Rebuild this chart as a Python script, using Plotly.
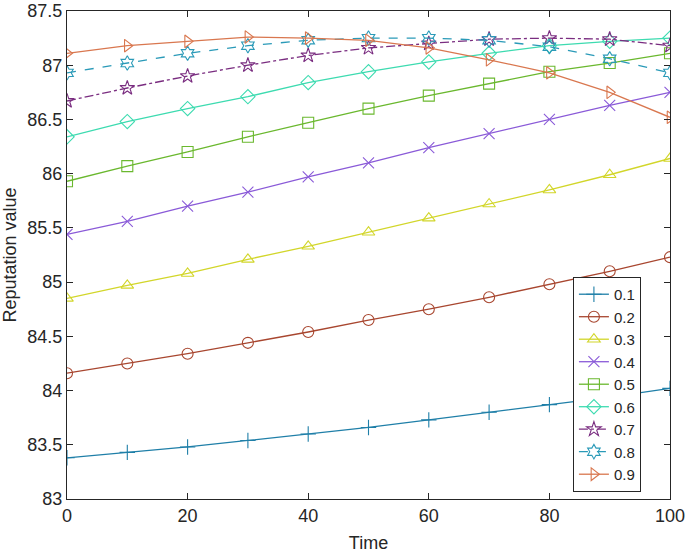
import plotly.graph_objects as go

# time steps
time = [0, 10, 20, 30, 40, 50, 60, 70, 80, 90, 100]

# reputation value for each parameter setting
rep_01 = [83.38, 83.43, 83.48, 83.54, 83.60, 83.66, 83.73, 83.80, 83.87, 83.94, 84.02]
rep_02 = [84.16, 84.25, 84.34, 84.44, 84.54, 84.65, 84.75, 84.86, 84.98, 85.10, 85.23]
rep_03 = [84.85, 84.97, 85.08, 85.21, 85.33, 85.46, 85.59, 85.72, 85.85, 85.99, 86.14]
rep_04 = [85.44, 85.56, 85.70, 85.83, 85.97, 86.10, 86.24, 86.37, 86.50, 86.63, 86.75]
rep_05 = [85.93, 86.07, 86.20, 86.34, 86.47, 86.60, 86.72, 86.83, 86.94, 87.02, 87.11]
rep_06 = [86.34, 86.48, 86.60, 86.71, 86.84, 86.94, 87.03, 87.11, 87.18, 87.22, 87.25]
rep_07 = [86.67, 86.79, 86.90, 87.00, 87.09, 87.16, 87.20, 87.24, 87.25, 87.24, 87.18]
rep_08 = [86.93, 87.02, 87.11, 87.18, 87.23, 87.25, 87.25, 87.23, 87.17, 87.06, 86.93]
rep_09 = [87.11, 87.18, 87.22, 87.26, 87.25, 87.23, 87.16, 87.05, 86.93, 86.75, 86.52]

names = ["0.1", "0.2", "0.3", "0.4", "0.5", "0.6", "0.7", "0.8", "0.9"]
series = [rep_01, rep_02, rep_03, rep_04, rep_05, rep_06, rep_07, rep_08, rep_09]

# axis ticks
x_ticks = [0, 20, 40, 60, 80, 100]
y_ticks = [83, 83.5, 84, 84.5, 85, 85.5, 86, 86.5, 87, 87.5]
y_labels = ["83", "83.5", "84", "84.5", "85", "85.5", "86", "86.5", "87", "87.5"]

colors = ["#1f7fa8", "#a8462f", "#d2d62a", "#8a5ad8", "#6ab82e",
          "#3ddbb0", "#7a2d80", "#2a9ab8", "#d9774f"]
symbols = ["cross-thin-open", "circle-open", "triangle-up-open", "x-thin-open",
           "square-open", "diamond-open", "star-open", "hexagram-open",
           "triangle-right-open"]
dashes = ["solid", "solid", "solid", "solid", "solid", "solid", "dashdot", "dash", "solid"]

fig = go.Figure()
for name, ys, c, s, d in zip(names, series, colors, symbols, dashes):
    fig.add_trace(go.Scatter(
        x=time, y=ys, name=name, mode="lines+markers",
        line=dict(color=c, width=1.3, dash=d),
        marker=dict(symbol=s, size=11, color=c, line=dict(color=c, width=1.1)),
    ))

axis_style = dict(
    showline=True, linecolor="#262626", linewidth=1, mirror="ticks",
    ticks="inside", ticklen=6, tickcolor="#262626", showgrid=False, zeroline=False,
    tickfont=dict(size=18, color="#262626"), automargin=False,
    ticklabeloverflow="allow",
)

fig.update_layout(
    width=685, height=553,
    margin=dict(l=67, r=15, t=11, b=54),
    paper_bgcolor="white", plot_bgcolor="white",
    font=dict(family="Liberation Sans, Arial, sans-serif", color="#262626"),
    xaxis=dict(range=[0, 100], tickvals=x_ticks,
               title=dict(text="Time", font=dict(size=18), standoff=12), **axis_style),
    yaxis=dict(range=[83, 87.5], tickvals=y_ticks, ticktext=y_labels,
               title=dict(text="Reputation value", font=dict(size=18), standoff=6), **axis_style),
    legend=dict(x=0.839, y=0.455, xanchor="left", yanchor="top",
                bgcolor="white", bordercolor="#262626", borderwidth=1,
                font=dict(size=15), tracegroupgap=0, itemwidth=30),
    showlegend=True,
)

# drop the default page margin so the figure sits at the window corner
fig.write_html("out.html", config={"displayModeBar": False},
               post_script="document.body.style.margin='0';")
